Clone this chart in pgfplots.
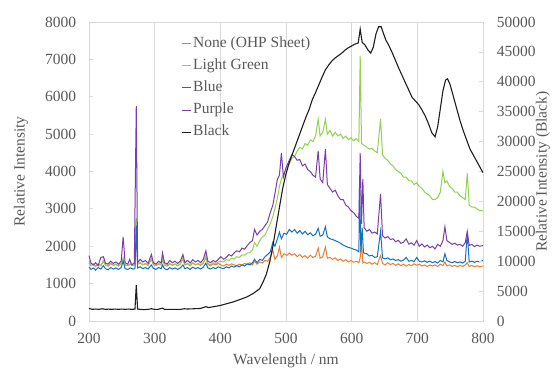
\documentclass[border=0pt]{standalone}
\usepackage{fontspec}
\setmainfont{Liberation Serif}
\usepackage{pgfplots}
\pgfplotsset{compat=1.18}
\definecolor{cOrange}{RGB}{237,125,49}
\definecolor{cGreen}{RGB}{146,208,80}
\definecolor{cBlue}{RGB}{20,112,192}
\definecolor{cPurple}{RGB}{124,60,172}
\definecolor{cBlack}{RGB}{30,30,30}
\definecolor{cGrid}{RGB}{217,217,217}
\definecolor{cText}{RGB}{89,89,89}
\begin{document}
\fontsize{15.5}{18.6}\selectfont
\begin{tikzpicture}
\begin{axis}[
  scale only axis, width=394pt, height=299pt,
  xmin=200, xmax=800, ymin=0, ymax=8000,
  xtick={200,300,...,800}, ytick={0,1000,...,8000},
  ytick pos=left, xtick pos=bottom,
  tick align=inside, major tick length=4pt,
  tick style={cGrid, line width=0.8pt},
  axis line style={cGrid, line width=0.8pt},
  xmajorgrids, grid style={cGrid, line width=0.8pt},
  /pgf/number format/assume math mode=true,
  /pgf/number format/set thousands separator={},
  scaled y ticks=false,
  tick label style={text=cText},
  xticklabel style={yshift=-7pt},
  yticklabel style={xshift=-7.5pt},
  xlabel={Wavelength / nm}, ylabel={Relative Intensity},
  label style={text=cText},
  xlabel style={at={(axis description cs:0.5,-0.134)}, anchor=center},
  ylabel style={at={(axis description cs:-0.173,0.5)}, anchor=center},
  legend cell align=left,
  legend style={at={(axis description cs:0.2335,0.952)}, anchor=north west,
    draw=none, fill=none, inner sep=0pt, row sep=8.2pt, column sep=2pt,
    text=cText,
    nodes={inner sep=0pt, text height=10.5pt, text depth=3.5pt}},
  legend image code/.code={\draw[#1, line width=1pt] (0pt,0pt) -- (9pt,0pt);},
  clip=false,
]
\coordinate (SW) at (rel axis cs:0,0);
\coordinate (NE) at (rel axis cs:1,1);
% None (OHP Sheet)
\addplot[cOrange, line width=1pt] coordinates {
(200,1550)(203,1480)(207,1520)(210,1460)(214,1530)(218,1480)(222,1600)(225,1500)(229,1470)(233,1540)(237,1490)(241,1520)(245,1470)(249,1530)(252,1650)(255,1500)(259,1480)(263,1520)(267,1490)(270,1500)(272,2700)(274,1520)(278,1560)(282,1500)(286,1530)(290,1490)(295,1650)(298,1510)(302,1480)(306,1530)(310,1500)(312,1650)(315,1500)(319,1470)(323,1530)(327,1490)(331,1520)(335,1480)(339,1520)(343,1650)(346,1500)(350,1530)(354,1480)(358,1550)(362,1500)(366,1530)(370,1490)(374,1540)(378,1700)(381,1520)(385,1480)(389,1530)(393,1500)(397,1540)(401,1500)(405,1470)(409,1520)(413,1490)(417,1530)(421,1500)(425,1480)(429,1520)(433,1500)(437,1540)(441,1510)(445,1560)(449,1500)(452,1600)(456,1520)(460,1580)(464,1550)(468,1620)(472,1600)(476,1700)(480,1900)(483,1650)(487,1750)(490,1980)(493,1700)(497,1800)(501,1750)(505,1820)(509,1760)(513,1800)(517,1720)(521,1780)(525,1700)(529,1750)(533,1680)(537,1760)(541,1700)(545,1730)(549,1950)(552,1680)(556,1720)(560,1980)(563,1680)(567,1700)(571,1650)(575,1690)(579,1620)(583,1660)(587,1600)(591,1640)(595,1580)(599,1620)(603,1570)(607,1600)(611,1560)(613,1700)(615,2100)(617,1550)(619,1580)(623,1540)(627,1570)(631,1520)(635,1560)(639,1510)(644,1750)(647,1540)(651,1500)(655,1560)(659,1510)(663,1540)(667,1490)(671,1530)(675,1480)(679,1520)(683,1470)(687,1510)(691,1480)(695,1530)(699,1490)(703,1520)(707,1470)(711,1500)(715,1460)(719,1500)(723,1470)(727,1500)(731,1460)(735,1520)(739,1480)(742,1580)(745,1470)(749,1500)(753,1460)(757,1490)(761,1450)(765,1490)(769,1460)(773,1500)(776,1560)(779,1460)(783,1490)(787,1450)(791,1480)(795,1450)(800,1470)
};
\addlegendentry{None (OHP Sheet)}
% Light Green
\addplot[cGreen, line width=1pt] coordinates {
(200,1600)(203,1480)(207,1520)(210,1450)(214,1530)(218,1480)(222,1620)(225,1500)(229,1470)(233,1540)(237,1490)(241,1520)(245,1470)(249,1530)(252,1700)(255,1500)(259,1480)(263,1530)(267,1490)(270,1500)(272,2750)(274,1520)(278,1570)(282,1510)(286,1540)(290,1490)(295,1680)(298,1510)(302,1480)(306,1540)(310,1500)(312,1700)(315,1510)(319,1480)(323,1540)(327,1500)(331,1530)(335,1480)(339,1530)(343,1680)(346,1510)(350,1540)(354,1490)(358,1560)(362,1510)(366,1540)(370,1500)(374,1560)(378,1750)(381,1540)(385,1500)(389,1560)(393,1530)(397,1580)(401,1600)(405,1580)(409,1640)(413,1620)(417,1680)(421,1660)(425,1720)(429,1700)(433,1770)(437,1760)(441,1820)(445,1830)(449,1900)(452,2100)(456,2000)(460,2150)(464,2250)(468,2300)(472,2450)(476,2600)(480,2800)(483,3000)(487,3300)(490,3600)(493,3800)(497,3950)(501,4100)(505,4200)(509,4350)(513,4400)(517,4550)(521,4650)(525,4600)(529,4750)(533,4700)(537,4850)(541,4800)(545,4950)(549,5400)(552,4950)(556,5050)(560,5400)(563,5000)(567,5100)(571,4950)(575,5050)(579,4950)(583,5000)(587,4880)(591,4950)(595,4850)(599,4900)(603,4820)(607,4880)(611,4800)(613,7100)(615,4750)(619,4700)(623,4650)(627,4600)(631,4620)(635,4550)(639,4500)(644,5400)(647,4450)(651,4350)(655,4300)(659,4200)(663,4150)(667,4050)(671,4000)(675,3950)(679,3850)(683,3850)(687,3750)(691,3750)(695,3650)(699,3700)(703,3600)(707,3550)(711,3450)(715,3400)(719,3350)(723,3250)(727,3250)(731,3300)(735,3450)(739,4000)(742,3700)(745,3750)(749,3600)(753,3550)(757,3450)(761,3450)(765,3350)(769,3300)(773,3250)(776,3950)(779,3100)(783,3050)(787,3050)(791,3000)(795,2950)(800,2950)
};
\addlegendentry{Light Green}
% Blue
\addplot[cBlue, line width=1pt] coordinates {
(200,1450)(203,1380)(207,1420)(210,1360)(214,1430)(218,1390)(222,1480)(225,1400)(229,1370)(233,1430)(237,1390)(241,1420)(245,1380)(249,1430)(252,1600)(255,1400)(259,1380)(263,1420)(267,1390)(270,1400)(272,2550)(274,1420)(278,1450)(282,1400)(286,1430)(290,1390)(295,1500)(298,1410)(302,1380)(306,1430)(310,1400)(312,1500)(315,1400)(319,1370)(323,1430)(327,1390)(331,1420)(335,1380)(339,1420)(343,1500)(346,1400)(350,1430)(354,1380)(358,1440)(362,1400)(366,1430)(370,1390)(374,1440)(378,1550)(381,1420)(385,1390)(389,1430)(393,1400)(397,1450)(401,1420)(405,1400)(409,1450)(413,1420)(417,1470)(421,1440)(425,1480)(429,1450)(433,1500)(437,1470)(441,1530)(445,1500)(449,1560)(452,1650)(456,1560)(460,1650)(464,1620)(468,1720)(472,1780)(476,1850)(480,2100)(483,2000)(487,2200)(490,2380)(493,2200)(497,2350)(501,2320)(505,2450)(509,2380)(513,2450)(517,2350)(521,2420)(525,2330)(529,2400)(533,2310)(537,2360)(541,2280)(545,2320)(549,2480)(552,2270)(556,2300)(560,2520)(563,2250)(567,2200)(571,2180)(575,2150)(579,2120)(583,2080)(587,2030)(591,2000)(595,1970)(599,1950)(603,1920)(607,1900)(611,1850)(612,3700)(614,1850)(616,2500)(618,1820)(623,1800)(627,1740)(631,1760)(635,1700)(639,1720)(644,2400)(647,1690)(651,1660)(655,1690)(659,1640)(663,1660)(667,1620)(671,1640)(675,1600)(679,1630)(683,1700)(687,1600)(691,1620)(695,1590)(699,1700)(703,1600)(707,1580)(711,1610)(715,1570)(719,1600)(723,1560)(727,1590)(731,1550)(735,1620)(739,1580)(742,1800)(745,1620)(749,1580)(753,1560)(757,1590)(761,1560)(765,1580)(769,1550)(773,1600)(776,2350)(779,1580)(783,1600)(787,1570)(791,1600)(795,1580)(800,1620)
};
\addlegendentry{Blue}
% Purple
\addplot[cPurple, line width=1pt] coordinates {
(200,1750)(203,1550)(207,1500)(210,1560)(214,1480)(218,1700)(222,1720)(225,1550)(229,1520)(233,1600)(237,1540)(241,1580)(245,1520)(249,1600)(252,2250)(255,1560)(259,1520)(262,1650)(265,1500)(269,1550)(272,5750)(274,1560)(278,1650)(282,1580)(286,1620)(290,1540)(295,1780)(298,1560)(302,1520)(306,1600)(310,1550)(312,1820)(315,1560)(319,1520)(323,1620)(327,1560)(331,1600)(335,1540)(339,1600)(343,1780)(346,1560)(350,1620)(354,1550)(358,1640)(362,1580)(366,1620)(370,1560)(374,1650)(378,1880)(381,1600)(385,1560)(389,1620)(393,1580)(397,1650)(401,1720)(405,1650)(409,1700)(413,1780)(417,1740)(421,1820)(425,1880)(429,1850)(433,1950)(437,1920)(441,2020)(445,2100)(449,2150)(452,2450)(456,2300)(460,2400)(464,2450)(468,2550)(472,2650)(476,2900)(480,3100)(483,3400)(487,3800)(490,3900)(493,4500)(496,3850)(500,4100)(505,4300)(509,4450)(513,4400)(517,4300)(521,4320)(525,4150)(529,4200)(533,4050)(537,4000)(541,3900)(545,3850)(549,4550)(552,3800)(556,3700)(560,4600)(563,3650)(567,3550)(571,3450)(575,3500)(579,3350)(583,3250)(587,3250)(591,3100)(595,3050)(599,2950)(603,2900)(607,2800)(611,2750)(613,4500)(615,2600)(617,3800)(619,2500)(623,2400)(627,2450)(631,2350)(635,2380)(639,2330)(644,3400)(647,2280)(651,2220)(655,2260)(659,2180)(663,2200)(667,2120)(671,2160)(675,2080)(679,2110)(683,2200)(687,2060)(691,2090)(695,2030)(699,2150)(703,2000)(707,2060)(711,1980)(715,2030)(719,1960)(723,2000)(727,1930)(731,2050)(735,2000)(739,2150)(742,2520)(745,2150)(749,2100)(753,2050)(757,2080)(761,2030)(765,2050)(769,2000)(773,2100)(776,2400)(779,2020)(783,2050)(787,1990)(791,2030)(795,2000)(800,2020)
};
\addlegendentry{Purple}
\addlegendimage{cBlack, line width=1.1pt}
\addlegendentry{Black}
\end{axis}
\begin{axis}[
  scale only axis, width=394pt, height=299pt,
  xmin=200, xmax=800, ymin=0, ymax=50000,
  axis x line=none, axis y line*=right,
  ytick={0,5000,...,50000},
  tick align=inside, major tick length=4pt,
  tick style={cGrid, line width=0.8pt},
  axis line style={cGrid, line width=0.8pt},
  /pgf/number format/assume math mode=true,
  /pgf/number format/set thousands separator={},
  scaled y ticks=false,
  tick label style={text=cText},
  yticklabel style={xshift=8.5pt},
  ylabel={Relative Intensity (Black)},
  label style={text=cText},
  ylabel style={at={(axis description cs:1.152,0.5)}, anchor=center},
]
\addplot[cBlack, line width=1.1pt] coordinates {
(200,2100)(205,1950)(210,2000)(215,1950)(220,2050)(225,1950)(230,1980)(235,1950)(240,2000)(245,1950)(250,2000)(255,1950)(260,2000)(265,1950)(270,1980)(272,6000)(274,2000)(278,1950)(283,1900)(290,1950)(295,2050)(300,1950)(305,1950)(312,2150)(315,1950)(320,1950)(330,1950)(340,1950)(345,2050)(350,2000)(360,2050)(370,2100)(378,2400)(382,2250)(390,2400)(400,2600)(410,2900)(420,3200)(430,3600)(440,4000)(450,4600)(460,5400)(465,6500)(470,7800)(475,9800)(480,12500)(485,15800)(490,19000)(495,22200)(500,24600)(505,26500)(510,28000)(515,29500)(520,31000)(525,32500)(530,34000)(535,35300)(540,37000)(545,38200)(550,39500)(555,40800)(560,42000)(565,42800)(570,43500)(575,44000)(580,44400)(585,44800)(590,45300)(595,45700)(600,46000)(605,46300)(610,46500)(613,48800)(616,46600)(620,46200)(625,45300)(629,44800)(633,45800)(637,48000)(641,49200)(645,49200)(648,48200)(652,47000)(657,46000)(662,44800)(667,43500)(672,42200)(677,41000)(682,39800)(687,38600)(692,37400)(697,36800)(702,36200)(707,35300)(712,34300)(717,33000)(722,31500)(727,30800)(731,32500)(735,35500)(739,38500)(743,40300)(746,40500)(750,39500)(755,37500)(760,35500)(765,33500)(770,31800)(775,30300)(780,28800)(785,27800)(790,26800)(795,25800)(800,24800)
};
\end{axis}
\pgfresetboundingbox
\path[use as bounding box] ([shift={(-89pt,-51pt)}]SW) rectangle ([shift={(71pt,22pt)}]NE);
\end{tikzpicture}
\end{document}
